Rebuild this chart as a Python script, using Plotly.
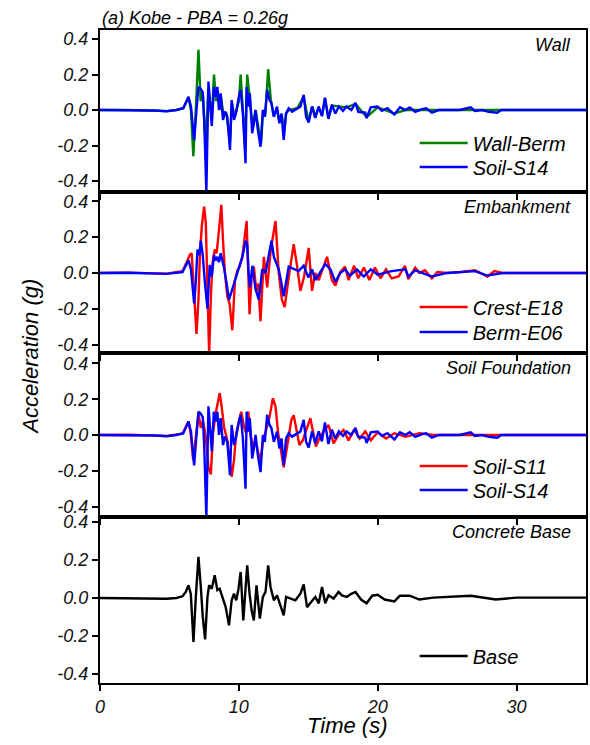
import plotly.graph_objects as go
from plotly.subplots import make_subplots

# ---------------- data (time s, acceleration g) ----------------
wall_berm = [(0, 0), (2, 0), (4.8, -0.006), (5.5, 0), (6.0, 0.01), (6.37, 0.07), (6.55, 0.0), (6.72, -0.26),
             (6.9, 0.0), (7.09, 0.34), (7.25, 0.05), (7.4, 0.1), (7.5, -0.05), (7.62, -0.2), (7.8, 0.12),
             (8.05, -0.05), (8.21, 0.2), (8.35, 0.05), (8.5, 0.1), (8.6, 0.0), (8.7, 0.08), (8.9, -0.03),
             (9.1, -0.02), (9.36, -0.18), (9.5, 0.04), (9.7, -0.04), (10.0, 0.05), (10.13, 0.2), (10.3, -0.02),
             (10.45, -0.2), (10.6, 0.2), (10.8, 0.06), (11.0, -0.1), (11.2, 0.0), (11.4, -0.1), (11.6, -0.19),
             (11.75, 0.0), (11.9, -0.03), (12.11, 0.23), (12.3, 0.06), (12.5, -0.03), (12.75, 0.0), (12.9, -0.06),
             (13.1, -0.03), (13.25, -0.13), (13.4, -0.02), (13.6, 0.0), (14.2, 0.01), (14.67, 0.075), (15.0, -0.06),
             (15.3, 0.02), (15.5, -0.04), (15.75, 0.015), (16.0, -0.03), (16.2, 0.065), (16.45, -0.045),
             (16.7, 0.025), (17.2, 0.02), (17.75, 0.015), (18.4, 0.035), (19.2, -0.04), (20, 0.015),
             (21.2, -0.02), (22, 0), (25, 0), (35, 0)]

soil_s14 = [(0, 0), (2, 0), (4, -0.003), (4.8, -0.007), (5.5, 0), (6.0, 0.01), (6.37, 0.075), (6.55, 0.02),
            (6.78, -0.17), (6.95, 0.0), (7.09, 0.13), (7.25, 0.12), (7.4, 0.1), (7.5, -0.05), (7.66, -0.46),
            (7.81, 0.16), (7.95, 0.0), (8.05, -0.09), (8.2, 0.13), (8.33, 0.075), (8.45, 0.13), (8.57, 0.0),
            (8.69, 0.094), (8.86, -0.056), (9.0, -0.009), (9.17, -0.038), (9.36, -0.225), (9.48, 0.056),
            (9.65, -0.056), (9.81, -0.009), (10.0, 0.075), (10.13, 0.113), (10.29, -0.019), (10.48, -0.30),
            (10.56, 0.13), (10.68, 0.019), (10.79, 0.094), (10.96, -0.131), (11.08, -0.075), (11.2, 0.0),
            (11.37, -0.113), (11.56, -0.207), (11.73, 0.0), (11.87, -0.038), (12.04, 0.113), (12.21, 0.056),
            (12.35, 0.038), (12.52, -0.038), (12.75, 0.019), (12.92, -0.075), (13.07, -0.019), (13.23, -0.169),
            (13.4, -0.019), (13.59, 0.01), (13.83, -0.009), (14.19, 0.01), (14.43, 0.019), (14.67, 0.085),
            (14.84, -0.038), (15.03, -0.07), (15.27, 0.02), (15.5, -0.045), (15.75, 0.02), (15.98, -0.035),
            (16.2, 0.07), (16.45, -0.05), (16.7, 0.03), (16.95, -0.02), (17.2, 0.02), (17.5, -0.005),
            (17.75, 0.02), (18.1, 0.0), (18.4, 0.04), (18.6, -0.01), (19.1, -0.015), (19.2, -0.045),
            (19.5, 0.015), (19.98, 0.02), (20.3, -0.005), (20.7, 0.01), (21.0, -0.012), (21.2, -0.025),
            (21.6, 0.015), (22.0, 0.0), (22.3, 0.015), (22.7, -0.01), (23.2, 0.005), (23.5, 0.01),
            (23.9, -0.015), (24.4, 0.0), (25.9, 0.0), (26.7, 0.015), (27.0, -0.005), (27.5, 0.0),
            (28.0, -0.01), (28.6, -0.015), (28.9, 0.0), (35, 0.0)]

crest_e18 = [(0, 0), (2, 0.002), (4.8, -0.004), (5.5, 0.003), (5.94, 0.01), (6.3, 0.07), (6.46, 0.1), (6.6, 0.11),
             (6.78, -0.095), (6.95, -0.34), (7.09, -0.15), (7.19, 0.09), (7.33, 0.26), (7.5, 0.37), (7.62, 0.28),
             (7.74, -0.15), (7.86, -0.45), (8.0, -0.1), (8.1, 0.05), (8.26, 0.13), (8.4, 0.11), (8.57, 0.24),
             (8.74, 0.38), (8.86, 0.18), (9.0, 0.0), (9.17, -0.13), (9.33, -0.17), (9.53, -0.32), (9.72, -0.04),
             (9.9, 0.017), (10.05, 0.035), (10.25, 0.09), (10.4, 0.18), (10.56, 0.29), (10.68, 0.0),
             (10.77, -0.23), (10.92, -0.02), (11.08, 0.035), (11.25, -0.095), (11.39, -0.06), (11.56, -0.27),
             (11.8, 0.09), (12.04, -0.08), (12.3, 0.13), (12.64, 0.29), (12.87, 0.0), (13.1, -0.15),
             (13.3, -0.19), (13.6, -0.02), (13.95, 0.16), (14.2, 0.035), (14.43, -0.1), (14.7, -0.02),
             (15.03, 0.14), (15.27, -0.1), (15.5, 0.0), (15.75, -0.04), (16.1, 0.035), (16.35, 0.09),
             (16.7, -0.04), (16.95, -0.07), (17.3, 0.005), (17.65, 0.035), (17.9, -0.04), (18.3, 0.04),
             (18.6, -0.03), (19.0, 0.03), (19.4, -0.04), (19.8, 0.03), (20.2, -0.03), (20.6, 0.02),
             (21.0, -0.03), (21.5, -0.02), (21.96, 0.04), (22.2, -0.035), (22.7, 0.03), (23.0, 0.0),
             (23.4, 0.015), (23.9, -0.03), (24.3, 0.005), (25, 0.0), (26, 0.005), (27, 0.015), (27.9, -0.02),
             (28.4, 0.01), (29, 0), (35, 0)]

berm_e06 = [(0, 0), (2, 0.001), (4.8, -0.005), (5.5, 0.002), (5.94, 0.005), (6.38, 0.07), (6.55, 0.02),
            (6.78, -0.17), (6.9, -0.05), (7.02, 0.13), (7.15, 0.1), (7.26, 0.18), (7.4, 0.1), (7.55, -0.05),
            (7.74, -0.2), (7.9, 0.045), (8.05, -0.02), (8.21, 0.1), (8.33, 0.07), (8.45, 0.09), (8.57, 0.06),
            (8.69, 0.11), (8.93, 0.03), (9.1, -0.05), (9.29, -0.15), (9.53, -0.09), (9.72, -0.04), (10.0, 0.02),
            (10.25, 0.09), (10.49, 0.18), (10.6, 0.16), (10.7, 0.0), (10.8, -0.08), (10.97, 0.04), (11.2, -0.09),
            (11.44, -0.15), (11.68, 0.02), (11.92, 0.0), (12.1, 0.08), (12.35, 0.18), (12.52, 0.09),
            (12.87, 0.02), (13.05, -0.05), (13.23, -0.13), (13.59, 0.035), (13.95, 0.02), (14.3, 0.01),
            (14.67, 0.04), (15.0, -0.025), (15.27, 0.02), (15.5, -0.04), (15.75, -0.01), (16.23, 0.05),
            (16.6, 0.02), (16.95, -0.05), (17.3, 0.0), (17.65, 0.02), (18.0, -0.015), (18.5, 0.02),
            (19.0, -0.02), (19.5, 0.02), (20, -0.01), (21, 0.01), (22, 0.02), (22.2, -0.02), (22.7, 0.015),
            (23.9, -0.02), (25, 0), (27, 0.01), (27.9, -0.015), (29, 0), (35, 0)]

soil_s11 = [(0, 0), (2, 0.001), (4.8, -0.005), (5.5, 0.002), (5.94, 0.008), (6.38, 0.075), (6.54, 0.0),
            (6.71, -0.14), (6.9, 0.0), (7.09, 0.12), (7.26, 0.04), (7.42, 0.08), (7.62, -0.01), (7.81, -0.18),
            (7.98, -0.22), (8.14, 0.009), (8.33, 0.12), (8.5, 0.2), (8.62, 0.234), (8.76, 0.16), (8.93, 0.046),
            (9.17, -0.03), (9.36, -0.18), (9.48, -0.234), (9.65, -0.14), (9.81, 0.01), (10.0, 0.075),
            (10.17, 0.13), (10.36, 0.05), (10.53, 0.01), (10.68, 0.13), (10.84, 0.0), (11.01, -0.065),
            (11.2, -0.03), (11.39, -0.1), (11.56, -0.14), (11.75, -0.03), (11.97, 0.03), (12.21, 0.1),
            (12.45, 0.205), (12.64, 0.16), (12.83, 0.01), (13.04, -0.1), (13.23, -0.18), (13.43, -0.085),
            (13.59, 0.0), (13.78, 0.084), (13.95, 0.11), (14.14, 0.028), (14.36, -0.056), (14.6, -0.03),
            (14.84, 0.028), (15.15, 0.094), (15.39, 0.0), (15.55, -0.065), (15.79, -0.02), (16.1, 0.02),
            (16.46, 0.056), (16.82, -0.047), (17.18, 0.0), (17.54, 0.028), (17.9, -0.03), (18.3, 0.03),
            (18.7, -0.02), (19.1, 0.02), (19.5, -0.03), (20.0, 0.015), (20.6, -0.02), (21.2, 0.01),
            (22, -0.01), (23, 0.01), (24, 0), (35, 0)]

base = [(0, -0.002), (2, -0.003), (4.0, -0.004), (4.8, -0.006), (5.5, -0.002), (5.94, 0.007), (6.18, 0.03),
        (6.37, 0.065), (6.54, 0.02), (6.73, -0.233), (6.9, 0.004), (7.09, 0.214), (7.26, 0.056), (7.4, -0.1),
        (7.57, -0.22), (7.74, 0.004), (7.86, 0.065), (8.05, 0.047), (8.26, 0.118), (8.45, 0.04), (8.62, 0.047),
        (8.81, 0.004), (9.05, -0.05), (9.29, -0.146), (9.48, -0.014), (9.65, 0.021), (9.81, -0.014),
        (9.96, 0.04), (10.13, 0.135), (10.32, -0.12), (10.48, 0.04), (10.6, 0.17), (10.77, 0.02),
        (10.92, -0.067), (11.08, -0.12), (11.27, 0.065), (11.51, -0.11), (11.73, 0.004), (11.92, 0.03),
        (12.11, 0.17), (12.28, 0.056), (12.52, -0.014), (12.75, 0.012), (12.99, -0.04), (13.23, -0.093),
        (13.4, 0.004), (13.71, -0.005), (14.07, -0.014), (14.43, 0.021), (14.67, 0.07), (14.91, -0.05),
        (15.27, -0.014), (15.51, 0.004), (15.75, -0.03), (15.99, 0.056), (16.22, -0.03), (16.46, 0.012),
        (16.82, -0.005), (17.18, 0.03), (17.42, 0.012), (17.78, 0.004), (18.1, 0.02), (18.4, 0.03),
        (18.8, -0.01), (19.2, -0.03), (19.6, 0.01), (20.0, 0.015), (20.5, -0.01), (21.2, -0.02),
        (21.6, 0.01), (22.3, 0.01), (23, -0.01), (24, 0), (26.7, 0.01), (28.5, -0.01), (30, 0), (35, 0)]

panel_titles = ["Wall", "Embankment", "Soil Foundation", "Concrete Base"]
y_tickvals = [-0.4, -0.2, 0.0, 0.2, 0.4]
y_ticktext = ["-0.4", "-0.2", "0.0", "0.2", "0.4"]
x_tickvals = [0, 10, 20, 30]
x_ticktext = ["0", "10", "20", "30"]

# ---------------- figure ----------------
FONT = "Liberation Sans, Arial, sans-serif"
W, H = 590, 745
ML, MR, MT, MB = 100, 2, 30, 62
PW = W - ML - MR
PH = H - MT - MB  # 653

def py(p):  # pixel row -> paper y
    return (H - MB - p) / PH

def px(p):  # pixel column -> paper x
    return (p - ML) / PW

fig = make_subplots(rows=4, cols=1, shared_xaxes=True, vertical_spacing=0)

series = [
    # (data, name, color, row, legend id, legend row pixel)
    (wall_berm, "Wall-Berm", "#008000", 1, "legend", 143),
    (soil_s14, "Soil-S14", "#0000FF", 1, "legend2", 167),
    (crest_e18, "Crest-E18", "#FF0000", 2, "legend3", 307),
    (berm_e06, "Berm-E06", "#0000FF", 2, "legend4", 332),
    (soil_s11, "Soil-S11", "#FF0000", 3, "legend5", 466),
    (soil_s14, "Soil-S14", "#0000FF", 3, "legend6", 490),
    (base, "Base", "#000000", 4, "legend7", 656),
]

legend_layout = {}
for data, name, color, row, leg, lp in series:
    t = [p[0] for p in data]
    a = [p[1] for p in data]
    fig.add_trace(go.Scatter(x=t, y=a, mode="lines", name=name,
                             line=dict(color=color, width=2.4), legend=leg),
                  row=row, col=1)
    legend_layout[leg] = dict(x=px(416), xanchor="left", y=py(lp), yanchor="middle",
                              bgcolor="rgba(0,0,0,0)", borderwidth=0, itemwidth=48,
                              font=dict(family=FONT, size=20, style="italic", color="#000"))

# panel pixel boundaries
bounds = [30, 192, 353, 517, 683]
yranges = [[-0.462, 0.451], [-0.447, 0.452], [-0.458, 0.458], [-0.449, 0.424]]

axis_common = dict(showline=True, linecolor="#000", linewidth=2, mirror=True,
                   showgrid=False, zeroline=False, ticks="outside", ticklen=6,
                   tickwidth=2, tickcolor="#000")

for i in range(4):
    r = i + 1
    dom = [py(bounds[i + 1]), py(bounds[i])]
    fig.update_yaxes(row=r, col=1, domain=dom, range=yranges[i], tickvals=y_tickvals,
                     ticktext=y_ticktext,
                     tickfont=dict(family=FONT, size=18, style="italic", color="#111"),
                     **axis_common)
    fig.update_xaxes(row=r, col=1, range=[0, 35], tickvals=x_tickvals, ticktext=x_ticktext,
                     showticklabels=(r == 4),
                     tickfont=dict(family=FONT, size=18, style="italic", color="#111"),
                     **axis_common)

annotations = []
for i, title in enumerate(panel_titles):
    yref = "y domain" if i == 0 else f"y{i + 1} domain"
    annotations.append(dict(text=title, xref="paper", x=1, xanchor="right", xshift=-13,
                            yref=yref, y=1, yanchor="top", yshift=-3, showarrow=False,
                            font=dict(family=FONT, size=18, style="italic", color="#000")))

annotations.append(dict(text="(a) Kobe - PBA = 0.26g", xref="paper", x=0, xanchor="left",
                        yref="paper", y=1, yanchor="bottom", yshift=0, showarrow=False,
                        font=dict(family=FONT, size=18, style="italic", color="#000")))
annotations.append(dict(text="Acceleration (g)", xref="paper", x=px(30),
                        xanchor="center", yref="paper", y=0.5, yanchor="middle",
                        textangle=-90, showarrow=False,
                        font=dict(family=FONT, size=22, style="italic", color="#000")))
annotations.append(dict(text="Time (s)", xref="paper", x=px(348),
                        xanchor="center", yref="paper", y=py(725), yanchor="middle",
                        showarrow=False,
                        font=dict(family=FONT, size=22, style="italic", color="#000")))

fig.update_layout(width=W, height=H, margin=dict(l=ML, r=MR, t=MT, b=MB),
                  paper_bgcolor="white", plot_bgcolor="white", showlegend=True,
                  annotations=annotations, **legend_layout)

fig.write_html("out.html", config={"displayModeBar": False},
               post_script="document.body.style.margin='0px';document.body.style.overflow='hidden';")
